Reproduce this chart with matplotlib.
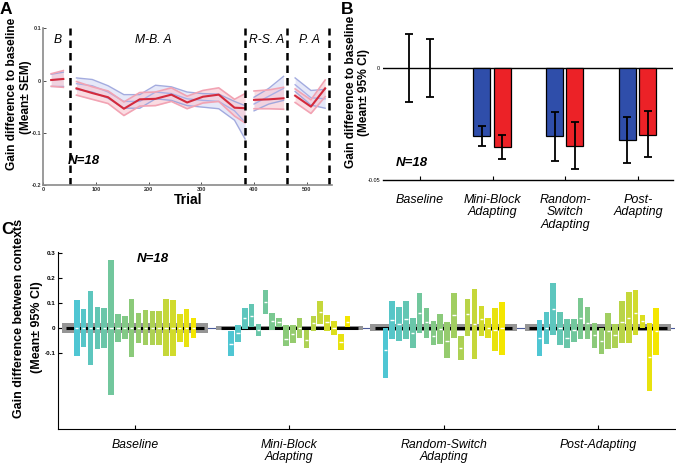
import matplotlib
matplotlib.use('Agg')
import matplotlib.pyplot as plt
import numpy as np
from matplotlib.colors import LinearSegmentedColormap

plt.rcParams['font.family'] = ['Liberation Sans', 'DejaVu Sans']

# ---------------- Panel A data ----------------
trials_b = [15, 38]
trials_mb = [63, 93, 123, 153, 183, 213, 243, 273, 303, 333, 363, 383]
trials_rs = [400, 428, 456]
trials_pa = [478, 508, 535]

red_mean_b = [0.001, 0.003]
red_sem_b = [0.012, 0.016]
red_mean_mb = [-0.015, -0.024, -0.032, -0.054, -0.036, -0.035, -0.027, -0.042, -0.031, -0.027, -0.052, -0.053]
red_sem_mb = [0.013, 0.012, 0.012, 0.013, 0.013, 0.013, 0.013, 0.012, 0.012, 0.013, 0.016, 0.028]
red_mean_rs = [-0.037, -0.036, -0.034]
red_sem_rs = [0.017, 0.018, 0.021]
red_mean_pa = [-0.029, -0.050, -0.015]
red_sem_pa = [0.013, 0.013, 0.016]

blue_mean_b = [0.001, 0.003]
blue_sem_b = [0.011, 0.013]
blue_mean_mb = [-0.006, -0.010, -0.022, -0.040, -0.040, -0.022, -0.025, -0.035, -0.038, -0.040, -0.058, -0.080]
blue_sem_mb = [0.011, 0.012, 0.012, 0.013, 0.013, 0.013, 0.013, 0.013, 0.013, 0.014, 0.018, 0.032]
blue_mean_rs = [-0.045, -0.030, -0.015]
blue_sem_rs = [0.013, 0.015, 0.023]
blue_mean_pa = [-0.008, -0.033, -0.035]
blue_sem_pa = [0.013, 0.014, 0.018]

segment_bounds = [50, 383, 462, 543]
segment_names = ['B', 'M-B. A', 'R-S. A', 'P. A']
segment_label_x = [28, 208, 423, 505]

# ---------------- Panel B data ----------------
b_categories = ['Baseline', 'Mini-Block\nAdapting', 'Random-\nSwitch\nAdapting', 'Post-\nAdapting']
b_blue_mean = [0.0, -0.0304, -0.0305, -0.0322]
b_blue_lo = [-0.0151, -0.0350, -0.0415, -0.0424]
b_blue_hi = [0.0153, -0.0260, -0.0196, -0.0218]
b_red_mean = [0.0, -0.0353, -0.0348, -0.0298]
b_red_lo = [-0.0128, -0.0406, -0.0450, -0.0397]
b_red_hi = [0.0131, -0.0300, -0.0241, -0.0192]

# ---------------- Panel C data ----------------
c_categories = ['Baseline', 'Mini-Block\nAdapting', 'Random-Switch\nAdapting', 'Post-Adapting']
c_gray_half = [0.020, 0.007, 0.014, 0.014]

c_base_hi = [0.113, 0.076, 0.148, 0.085, 0.080, 0.270, 0.056, 0.047, 0.116, 0.059, 0.071, 0.069, 0.067, 0.115, 0.112, 0.057, 0.075, 0.040]
c_base_lo = [-0.113, -0.076, -0.148, -0.083, -0.079, -0.268, -0.055, -0.045, -0.116, -0.060, -0.069, -0.069, -0.067, -0.113, -0.113, -0.056, -0.076, -0.040]
c_base_mean = [0.0] * 18

c_mb_hi = [-0.012, 0.012, 0.080, 0.095, 0.017, 0.151, 0.060, 0.039, 0.013, 0.013, 0.041, -0.009, 0.047, 0.107, 0.053, 0.028, -0.024, 0.047]
c_mb_lo = [-0.112, -0.056, -0.004, 0.004, -0.033, 0.057, -0.007, 0.004, -0.073, -0.060, -0.040, -0.081, -0.012, 0.017, -0.013, -0.029, -0.090, 0.003]
c_mb_mean = [-0.063, -0.019, 0.040, 0.049, -0.008, 0.104, 0.027, 0.023, -0.044, -0.023, 0.000, -0.047, 0.020, 0.063, 0.023, 0.000, -0.057, 0.025]

c_rs_hi = [0.001, 0.108, 0.085, 0.108, 0.039, 0.141, 0.081, 0.027, 0.055, 0.025, 0.141, -0.031, 0.117, 0.155, 0.088, 0.041, 0.079, 0.105]
c_rs_lo = [-0.200, -0.045, -0.053, -0.043, -0.079, -0.019, -0.041, -0.068, -0.065, -0.119, -0.041, -0.127, -0.032, -0.124, -0.032, -0.041, -0.092, -0.108]
c_rs_mean = [-0.089, 0.031, 0.017, 0.035, -0.019, 0.060, 0.024, -0.032, -0.003, -0.052, 0.051, -0.079, 0.055, 0.017, 0.035, -0.001, -0.007, -0.001]

c_pa_hi = [0.031, 0.065, 0.179, 0.065, 0.035, 0.035, 0.121, 0.084, 0.021, 0.001, 0.059, 0.015, 0.108, 0.144, 0.151, 0.052, 0.020, 0.081]
c_pa_lo = [-0.112, -0.065, -0.029, -0.069, -0.079, -0.056, -0.043, -0.043, -0.081, -0.103, -0.084, -0.079, -0.059, -0.061, -0.028, 0.001, -0.253, -0.108]
c_pa_mean = [-0.039, 0.001, 0.075, -0.001, -0.039, -0.008, 0.039, 0.021, -0.028, -0.052, -0.012, -0.029, 0.025, 0.041, 0.061, 0.028, -0.116, -0.012]

# ---------------- Figure ----------------
fig = plt.figure(figsize=(6.76, 4.68), dpi=100)
W, H = 676.0, 468.0

def axpos(x0, y0, x1, y1):
    return [x0 / W, 1 - y1 / H, (x1 - x0) / W, (y1 - y0) / H]

def vtext(x, y, s, fs):
    fig.text(x / W, 1 - y / H, s, rotation=90, ha='center', va='center',
             fontsize=fs, weight='bold')

RED = '#d42a3c'
PINK = '#f2a3b3'
BLUE_L = '#9aa3dc'

# Panel A
axA = fig.add_axes(axpos(43.3, 28.3, 332, 185))
axA.set_xlim(0, 548)
axA.set_ylim(-0.2, 0.1)
segs = [(trials_b, red_mean_b, red_sem_b, blue_mean_b, blue_sem_b),
        (trials_mb, red_mean_mb, red_sem_mb, blue_mean_mb, blue_sem_mb),
        (trials_rs, red_mean_rs, red_sem_rs, blue_mean_rs, blue_sem_rs),
        (trials_pa, red_mean_pa, red_sem_pa, blue_mean_pa, blue_sem_pa)]
for t, rm, rs, bm, bs in segs:
    t = np.array(t); rm = np.array(rm); rs = np.array(rs); bm = np.array(bm); bs = np.array(bs)
    axA.fill_between(t, bm - bs, bm + bs, color='#c9cdf0', alpha=0.45, lw=0)
    for yy in (bm - bs, bm + bs):
        axA.plot(t, yy, color=BLUE_L, lw=1.0, alpha=0.9)
    axA.plot(t, bm, color='#aab0e6', lw=1.0)
    axA.fill_between(t, rm - rs, rm + rs, color='#f7c6d0', alpha=0.6, lw=0)
    for yy in (rm - rs, rm + rs):
        axA.plot(t, yy, color=PINK, lw=1.2)
    axA.plot(t, rm, color=RED, lw=1.5)
for xb in segment_bounds:
    axA.axvline(xb, color='black', lw=1.8, ls=(0, (3, 2)))
for name, xl in zip(segment_names, segment_label_x):
    axA.text(xl, 0.077, name, style='italic', fontsize=8.7, ha='center', va='center')
axA.text(76, -0.155, 'N=18', style='italic', weight='bold', fontsize=9.5, ha='center', va='center')
for s in ('top', 'right'):
    axA.spines[s].set_visible(False)
for s in ('left', 'bottom'):
    axA.spines[s].set_color('#8a8a8a')
    axA.spines[s].set_linewidth(1.2)
axA.set_yticks([-0.2, -0.1, 0, 0.1])
axA.set_yticklabels(['-0.2', '-0.1', '0', '0.1'])
axA.set_xticks([0, 100, 200, 300, 400, 500])
axA.tick_params(axis='both', labelsize=4, direction='in', length=2, width=0.6, pad=1.5, colors='#333333')
for lab in axA.get_xticklabels() + axA.get_yticklabels():
    lab.set_fontweight('bold')
axA.set_xlabel('Trial', fontsize=10, weight='bold', labelpad=1)
vtext(12.5, 94, 'Gain difference to baseline', 8.6)
vtext(26, 97, '(Mean± SEM)', 8.6)

# Panel B
axB = fig.add_axes(axpos(383, 23.6, 673, 180))
axB.set_xlim(-0.51, 3.48)
axB.set_ylim(-0.05, 0.02)
xb = np.arange(len(b_categories))
off_blue, off_red, bw = -0.15, 0.13, 0.235
bm = np.array(b_blue_mean); rm = np.array(b_red_mean)
axB.bar(xb[1:] + off_blue, bm[1:], width=bw, color='#2f4eaa', edgecolor='black', lw=0.9, zorder=2)
axB.bar(xb[1:] + off_red, rm[1:], width=bw, color='#ec2227', edgecolor='black', lw=0.9, zorder=2)
axB.errorbar(xb + off_blue, bm, yerr=[bm - np.array(b_blue_lo), np.array(b_blue_hi) - bm],
             fmt='none', ecolor='black', elinewidth=1.3, capsize=3, capthick=1.3, zorder=3)
axB.errorbar(xb + off_red, rm, yerr=[rm - np.array(b_red_lo), np.array(b_red_hi) - rm],
             fmt='none', ecolor='black', elinewidth=1.3, capsize=3, capthick=1.3, zorder=3)
axB.axhline(0, color='black', lw=1.0, zorder=1)
for s in ('top', 'right', 'left'):
    axB.spines[s].set_visible(False)
axB.spines['bottom'].set_linewidth(1.0)
axB.set_yticks([-0.05, 0])
axB.set_yticklabels(['-0.05', '0'])
axB.tick_params(axis='y', labelsize=4, length=0, pad=2)
axB.set_xticks(xb)
axB.set_xticklabels(b_categories, style='italic', fontsize=9, linespacing=1.05)
axB.tick_params(axis='x', direction='in', length=3, width=0.8, pad=10)
axB.text(-0.11, -0.0424, 'N=18', style='italic', weight='bold', fontsize=9.5, ha='center', va='center')
vtext(351, 92, 'Gain difference to baseline', 8.6)
vtext(364, 92, '(Mean± 95% CI)', 8.6)

# Panel C
axC = fig.add_axes(axpos(58, 251.7, 675, 429))
axC.set_xlim(-0.5, 3.5)
axC.set_ylim(-0.404, 0.305)
cmap = LinearSegmentedColormap.from_list('cy', ['#4fc6d3', '#6cc6a6', '#8fca74', '#c2d63e', '#f4e600'])
nsub = len(c_base_hi)
colors = [cmap(i / (nsub - 1)) for i in range(nsub)]
spacing = 0.0445
offs = (np.arange(nsub) - (nsub - 1) / 2) * spacing
barw = 0.036
axC.axhline(0, color='#4a5a9a', lw=0.8, zorder=1)
groups = [(c_base_lo, c_base_hi, c_base_mean), (c_mb_lo, c_mb_hi, c_mb_mean),
          (c_rs_lo, c_rs_hi, c_rs_mean), (c_pa_lo, c_pa_hi, c_pa_mean)]
for g, (lo, hi, mn) in enumerate(groups):
    lo = np.array(lo); hi = np.array(hi); mn = np.array(mn)
    gh = c_gray_half[g]
    axC.bar(g, 2 * gh, bottom=-gh, width=0.95, color='#959595', lw=0, zorder=2)
    axC.plot([g - 0.445, g + 0.445], [0, 0], color='black', lw=2.2, zorder=3, solid_capstyle='butt')
    xs = g + offs
    axC.bar(xs, hi - lo, bottom=lo, width=barw, color=colors, lw=0, zorder=4)
    axC.hlines(mn, xs - barw * 0.3, xs + barw * 0.3, color='white', lw=1.0, zorder=5)
for s in ('top', 'right'):
    axC.spines[s].set_visible(False)
axC.spines['left'].set_bounds(-0.404, 0.305)
axC.set_yticks([-0.1, 0, 0.1, 0.2, 0.3])
axC.set_yticklabels(['-0.1', '0', '0.1', '0.2', '0.3'])
axC.tick_params(axis='y', labelsize=4.5, direction='in', length=3, width=0.8, pad=2)
for lab in axC.get_yticklabels():
    lab.set_fontweight('bold')
axC.set_xticks(range(4))
axC.set_xticklabels(c_categories, style='italic', fontsize=8.8, linespacing=1.05)
axC.tick_params(axis='x', direction='in', length=3, width=0.8, pad=7)
axC.text(0.117, 0.274, 'N=18', style='italic', weight='bold', fontsize=9.5, ha='center', va='center')
vtext(19, 318, 'Gain difference between contexts', 9)
vtext(37, 327, '(Mean± 95% CI)', 9)

# Panel letters
fig.text(0 / W, 1 - 9 / H, 'A', fontsize=12.5, weight='bold', ha='left', va='center')
fig.text(341 / W, 1 - 10 / H, 'B', fontsize=12.5, weight='bold', ha='left', va='center')
fig.text(1 / W, 1 - 229 / H, 'C', fontsize=12.5, weight='bold', ha='left', va='center')

fig.savefig('out.png', dpi=100)
